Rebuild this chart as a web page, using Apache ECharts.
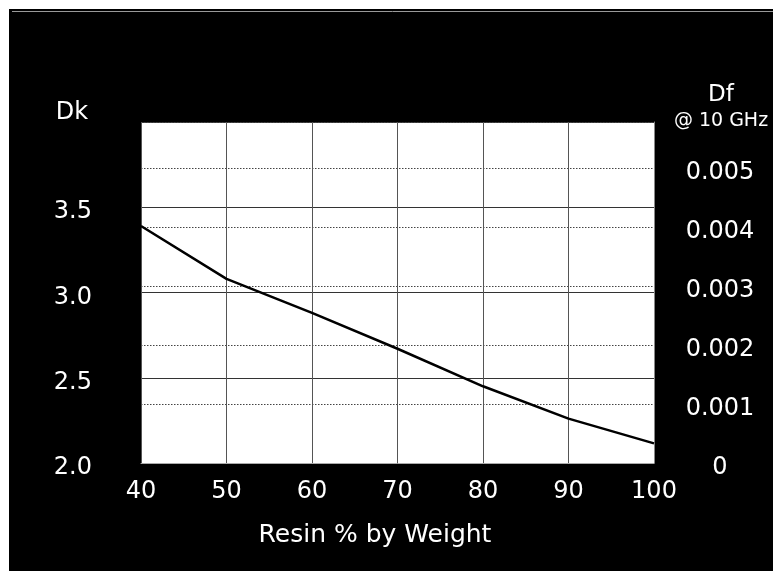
<!DOCTYPE html>
<html>
<head>
<meta charset="utf-8">
<script src="https://cdn.jsdelivr.net/npm/echarts@6/dist/echarts.min.js"></script>
<style>html,body{margin:0;padding:0;background:#fff;}#c{width:773px;height:571px;}</style>
</head>
<body>
<div id="c"></div>
<script>
var resinPct = [40, 50, 60, 70, 80, 90, 100];
var dkValues = [3.39, 3.08, 2.88, 2.67, 2.45, 2.26, 2.115];
var xTicks = [40, 50, 60, 70, 80, 90, 100];
var dkTicks = ['2.0', '2.5', '3.0', '3.5'];
var dfTicks = ['0', '0.001', '0.002', '0.003', '0.004', '0.005'];

var FONT = 'DejaVu Sans';
var chart = echarts.init(document.getElementById('c'), null, {renderer: 'canvas'});
var option = {
  animation: false,
  backgroundColor: '#000',
  grid: {left: 141, right: 119, top: 122, bottom: 108, show: true, backgroundColor: '#fff', borderWidth: 0},
  xAxis: {
    type: 'value', min: 40, max: 100, interval: 10,
    axisLine: {show: true, lineStyle: {color: '#aaa', width: 1}},
    axisTick: {show: false},
    axisLabel: {color: '#fff', fontFamily: FONT, fontSize: 24, margin: 17,
      formatter: function (v) { return xTicks.indexOf(v) >= 0 ? String(v) : ''; }},
    splitLine: {show: true, lineStyle: {color: '#555', width: 1}}
  },
  yAxis: [
    {
      type: 'value', min: 2, max: 4, interval: 0.5, position: 'left',
      axisLine: {show: false}, axisTick: {show: false},
      axisLabel: {color: '#fff', fontFamily: FONT, fontSize: 24, margin: 49, showMaxLabel: false,
        verticalAlign: 'top', lineHeight: 10,
        formatter: function (v) { var s = v.toFixed(1); return dkTicks.indexOf(s) >= 0 ? s : ''; }},
      splitLine: {show: true, lineStyle: {color: '#333', width: 1}}
    },
    {
      type: 'value', min: 0, max: 0.00578, interval: 0.001, position: 'right',
      axisLine: {show: true, lineStyle: {color: '#888', width: 1}}, axisTick: {show: false},
      axisLabel: {color: '#fff', fontFamily: FONT, fontSize: 24, margin: 66, align: 'center', showMaxLabel: false,
        verticalAlign: 'top', lineHeight: 9,
        formatter: function (v) { var s = v === 0 ? '0' : v.toFixed(3); return dfTicks.indexOf(s) >= 0 ? s : ''; }},
      splitLine: {show: true, lineStyle: {color: '#444', width: 1, type: [1.5, 1.5]}}
    }
  ],
  series: [{
    type: 'line', yAxisIndex: 0,
    data: resinPct.map(function (x, i) { return [x, dkValues[i]]; }),
    showSymbol: false, symbol: 'none',
    lineStyle: {color: '#000', width: 2.5},
    z: 5
  }],
  graphic: [
    {type: 'rect', shape: {x: 0, y: 0, width: 773, height: 9}, style: {fill: '#fff'}, z: 100},
    {type: 'rect', shape: {x: 0, y: 0, width: 9, height: 571}, style: {fill: '#fff'}, z: 100},
    {type: 'line', shape: {x1: 12, y1: 11.5, x2: 773, y2: 11.5}, style: {stroke: '#999', lineWidth: 1}, z: 100},
    {type: 'text', x: 72, y: 113, style: {text: 'Dk', fill: '#fff', font: '24px "' + FONT + '"', align: 'center', verticalAlign: 'middle'}, z: 100},
    {type: 'text', x: 721, y: 95, style: {text: 'Df', fill: '#fff', font: '23px "' + FONT + '"', align: 'center', verticalAlign: 'middle'}, z: 100},
    {type: 'text', x: 721, y: 121, style: {text: '@ 10 GHz', fill: '#fff', font: '19px "' + FONT + '"', align: 'center', verticalAlign: 'middle'}, z: 100},
    {type: 'text', x: 375, y: 535, style: {text: 'Resin % by Weight', fill: '#fff', font: '25px "' + FONT + '"', align: 'center', verticalAlign: 'middle'}, z: 100}
  ]
};
chart.setOption(option);
</script>
</body>
</html>
